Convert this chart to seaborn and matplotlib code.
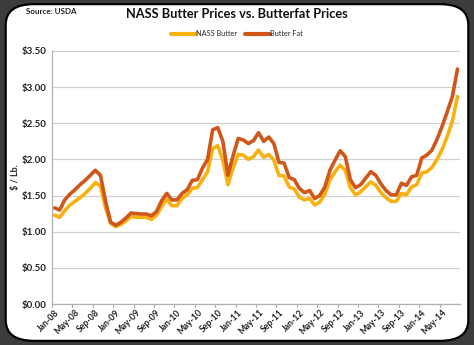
import numpy as np
import pandas as pd
import matplotlib
matplotlib.use("Agg")
import matplotlib.pyplot as plt
from matplotlib.patches import FancyBboxPatch
import seaborn as sns

# Monthly prices, Jan-08 through Aug-14 ($ per lb)
months = pd.date_range("2008-01-01", "2014-08-01", freq="MS").strftime("%b-%y").tolist()

nass_butter = [
    1.23, 1.20, 1.29, 1.37, 1.42, 1.47, 1.53, 1.60, 1.68, 1.63, 1.33, 1.12,   # 2008
    1.07, 1.10, 1.15, 1.21, 1.20, 1.20, 1.20, 1.17, 1.23, 1.35, 1.45, 1.36,   # 2009
    1.36, 1.46, 1.51, 1.60, 1.61, 1.72, 1.83, 2.15, 2.19, 1.99, 1.65, 1.88,   # 2010
    2.07, 2.06, 2.00, 2.04, 2.13, 2.03, 2.07, 1.99, 1.78, 1.77, 1.62, 1.59,   # 2011
    1.48, 1.44, 1.46, 1.37, 1.41, 1.52, 1.72, 1.83, 1.92, 1.85, 1.61, 1.51,   # 2012
    1.55, 1.62, 1.69, 1.64, 1.54, 1.47, 1.42, 1.42, 1.53, 1.51, 1.62, 1.65,   # 2013
    1.81, 1.83, 1.89, 2.00, 2.14, 2.32, 2.53, 2.87,                           # 2014
]

butter_fat = [
    1.33, 1.30, 1.44, 1.52, 1.58, 1.65, 1.71, 1.78, 1.85, 1.78, 1.42, 1.13,   # 2008
    1.09, 1.13, 1.19, 1.26, 1.25, 1.245, 1.245, 1.22, 1.28, 1.43, 1.53, 1.44, # 2009
    1.44, 1.53, 1.58, 1.71, 1.72, 1.88, 2.00, 2.41, 2.44, 2.25, 1.78, 2.05,   # 2010
    2.29, 2.27, 2.22, 2.26, 2.37, 2.25, 2.31, 2.22, 1.96, 1.95, 1.75, 1.72,   # 2011
    1.60, 1.54, 1.57, 1.46, 1.50, 1.62, 1.85, 1.99, 2.12, 2.04, 1.72, 1.61,   # 2012
    1.65, 1.74, 1.83, 1.78, 1.66, 1.57, 1.51, 1.51, 1.67, 1.64, 1.76, 1.78,   # 2013
    2.02, 2.06, 2.13, 2.28, 2.46, 2.66, 2.87, 3.25,                           # 2014
]

series_names = ["NASS Butter", "Butter Fat"]
series_colors = ["#F9B10F", "#D0561A"]
y_ticks = [0.0, 0.5, 1.0, 1.5, 2.0, 2.5, 3.0, 3.5]

n = len(months)
df = pd.DataFrame({
    "pos": np.tile(np.arange(n) + 0.5, 2),
    "price": nass_butter + butter_fat,
    "series": [series_names[0]] * n + [series_names[1]] * n,
})

sns.set_theme(style="white")
plt.rcParams["font.family"] = ["Lato", "DejaVu Sans"]

fig = plt.figure(figsize=(4.74, 3.45), dpi=100, facecolor="#3c3c3c")
panel = FancyBboxPatch((0.012, 0.012), 0.976, 0.976,
                       boxstyle="round,pad=0,rounding_size=0.06",
                       transform=fig.transFigure, facecolor="white",
                       edgecolor="black", linewidth=1.6, zorder=-10)
fig.patches.append(panel)

ax = fig.add_axes([0.1097, 0.1188, 0.8608, 0.7334])
ax.set_zorder(5)
ax.set_facecolor("white")

sns.lineplot(data=df, x="pos", y="price", hue="series",
             palette=dict(zip(series_names, series_colors)),
             linewidth=2.6, ax=ax, legend=False)

ax.set_xlim(0, n)
ax.set_ylim(0, 3.5)
ax.set_yticks(y_ticks)
ax.set_yticklabels([f"${v:.2f}" for v in y_ticks], fontsize=7,
                   fontweight="bold", color="#222222")
tick_pos = np.arange(0, n, 4)
ax.set_xticks(tick_pos + 0.5)
ax.set_xticklabels([months[i] for i in tick_pos], rotation=45, ha="right",
                   rotation_mode="anchor", fontsize=6.3, fontweight="bold",
                   color="#222222")
ax.tick_params(axis="x", length=0, pad=3)
ax.tick_params(axis="y", length=0, pad=4)
# tick marks on the category axis at every fourth month boundary
for p in tick_pos:
    ax.plot([p, p], [0, -0.045], color="#b0b0b0", lw=0.8, clip_on=False)

ax.grid(axis="y", color="#d0d0d0", linewidth=0.9)
ax.grid(axis="x", visible=False)
for side in ["top", "right"]:
    ax.spines[side].set_visible(False)
for side in ["left", "bottom"]:
    ax.spines[side].set_color("#b0b0b0")
    ax.spines[side].set_linewidth(0.9)
ax.set_xlabel("")
ax.set_ylabel("$ / Lb.", fontsize=6.5, fontweight="bold", color="#222222")
ax.yaxis.set_label_coords(-0.079, 0.5)

fig.text(0.5, 0.958, "NASS Butter Prices vs. Butterfat Prices", ha="center",
         va="center", fontsize=9.2, fontweight="bold", color="#111111")
fig.text(0.055, 0.968, "Source: USDA", ha="left", va="center", fontsize=5.8,
         fontweight="bold", color="#222222")

handles = [plt.Line2D([], [], color=c, lw=3) for c in series_colors]
fig.legend(handles, series_names, loc="center", bbox_to_anchor=(0.5, 0.902),
           ncol=2, frameon=False, fontsize=5.3, handlelength=3.4,
           handletextpad=0.05, columnspacing=1.0, borderpad=0)

fig.savefig("out.png", dpi=100, facecolor=fig.get_facecolor())
